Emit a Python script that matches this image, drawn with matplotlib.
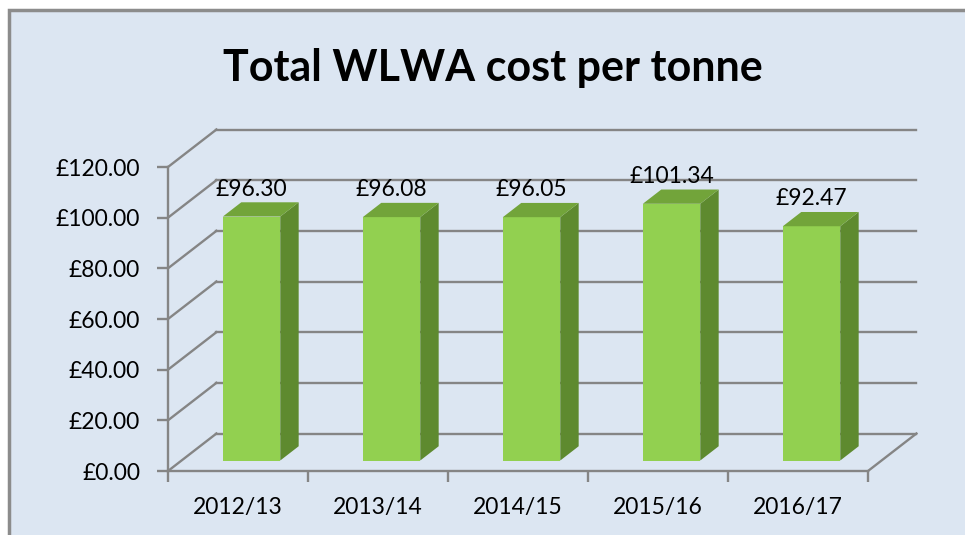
import matplotlib.pyplot as plt
from matplotlib.patches import Polygon, Rectangle

# Data
years = ['2012/13', '2013/14', '2014/15', '2015/16', '2016/17']
costs = [96.30, 96.08, 96.05, 101.34, 92.47]
y_ticks = [0, 20, 40, 60, 80, 100, 120]

# 3D look: offset of the back wall in data units
DX, DY = 0.346, 14.8
BAR_W = 0.41
D_FRONT, D_BACK = 0.28, 0.66

GRID = '#858585'
FRONT, SIDE, TOP = '#92D050', '#5E8A2F', '#72A43A'
FONT = 'Lato'


def shift(x, y, d):
    return x + DX * d, y + DY * d


fig = plt.figure(figsize=(9.65, 5.35), dpi=100)
fig.patch.set_facecolor('white')

# Chart area background with border
fig.patches.append(Rectangle((9 / 965, -0.05), 1.1, (525 / 535) + 0.05,
                             transform=fig.transFigure, facecolor='#DCE6F2',
                             edgecolor='#8C8C8C', lw=2.5, zorder=-5))

fig.text(0.511, 0.873, 'Total WLWA cost per tonne', ha='center', va='center',
         fontsize=31, fontweight='bold', family=FONT)

ax = fig.add_axes([168 / 965, 64 / 535, 700 / 965, 304 / 535])
ax.set_xlim(-0.5, len(years) - 0.5)
ax.set_ylim(0, 120)
ax.patch.set_alpha(0)

x0, x1 = -0.5, len(years) - 0.5

# Side wall diagonals and back wall gridlines
for t in y_ticks:
    bx, by = shift(x0, t, 1)
    ax.plot([x0, bx], [t, by], color=GRID, lw=1.7, clip_on=False, zorder=1)
    ex, ey = shift(x1, t, 1)
    ax.plot([bx, ex], [by, ey], color=GRID, lw=1.7, clip_on=False, zorder=1)

# Floor right edge
rx, ry = shift(x1, 0, 1)
ax.plot([x1, rx], [0, ry], color=GRID, lw=1.7, clip_on=False, zorder=1)

# Bars
for i, v in enumerate(costs):
    left, right = i - BAR_W / 2, i + BAR_W / 2
    fl = shift(left, 0, D_FRONT)
    fr = shift(right, 0, D_FRONT)
    front = [fl, fr, shift(right, v, D_FRONT), shift(left, v, D_FRONT)]
    side = [fr, shift(right, 0, D_BACK), shift(right, v, D_BACK), shift(right, v, D_FRONT)]
    top = [shift(left, v, D_FRONT), shift(right, v, D_FRONT),
           shift(right, v, D_BACK), shift(left, v, D_BACK)]
    ax.add_patch(Polygon(front, closed=True, facecolor=FRONT, edgecolor='none', zorder=3, clip_on=False))
    ax.add_patch(Polygon(side, closed=True, facecolor=SIDE, edgecolor='none', zorder=3, clip_on=False))
    ax.add_patch(Polygon(top, closed=True, facecolor=TOP, edgecolor='none', zorder=3, clip_on=False))
    lx, _ = shift(i, v, D_FRONT)
    _, ly = shift(i, v, D_BACK)
    ax.annotate(f'£{v:.2f}', (lx, ly), xytext=(0, 2), textcoords='offset points',
                ha='center', va='bottom', fontsize=16.5, family=FONT,
                annotation_clip=False, zorder=4)

# Axes: front left and bottom edges
for s in ['top', 'right']:
    ax.spines[s].set_visible(False)
for s in ['left', 'bottom']:
    ax.spines[s].set_color(GRID)
    ax.spines[s].set_linewidth(1.7)
    ax.spines[s].set_zorder(2)

ax.set_yticks(y_ticks)
ax.set_yticklabels([f'£{t:.2f}' for t in y_ticks], family=FONT, fontsize=16.5)
ax.tick_params(axis='y', direction='out', length=8, width=1.7, color=GRID, pad=12)

ax.set_xticks([i - 0.5 for i in range(len(years) + 1)])
ax.set_xticklabels([])
ax.set_xticks(range(len(years)), minor=True)
ax.set_xticklabels(years, minor=True, family=FONT, fontsize=16.5)
ax.tick_params(axis='x', which='major', direction='out', length=8, width=1.7, color=GRID)
ax.tick_params(axis='x', which='minor', length=0, pad=19)

fig.savefig('out.png', dpi=100)
